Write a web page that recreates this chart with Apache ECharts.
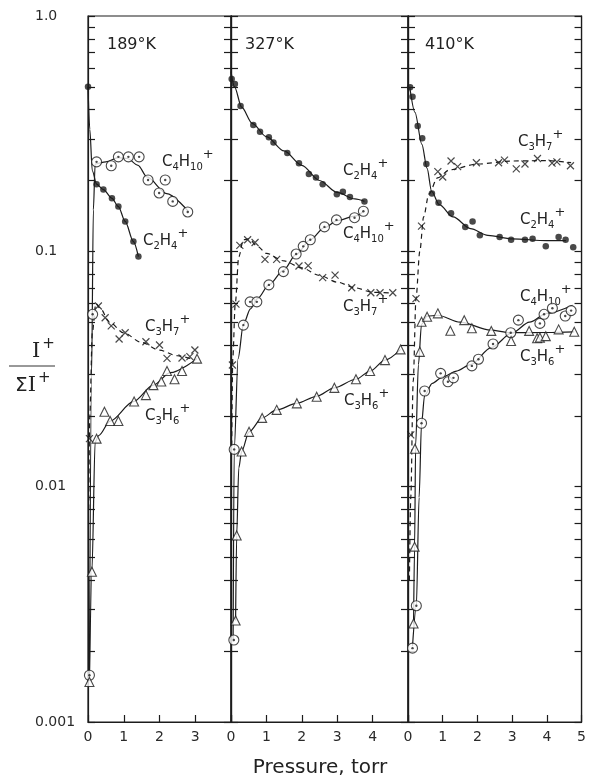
<!DOCTYPE html>
<html>
<head>
<meta charset="utf-8">
<script src="https://cdn.jsdelivr.net/npm/echarts@6/dist/echarts.min.js"></script>
<style>
html,body{margin:0;padding:0;background:#fff}
#chart{width:589px;height:778px}
</style>
</head>
<body>
<div id="chart"></div>
<script>
// pressure (torr) vs I+/sum I+ ; three temperatures
var panelTitles = ['189°K', '327°K', '410°K'];
var panelMax = [4, 5, 5];
var yLabelValues = [0.001, 0.01, 0.1, 1];
var yLabelTexts = ['0.001', '0.01', '0.1', '1.0'];

// 189 K
var p1C2H4 = [[0.0,0.50],[0.24,0.193],[0.43,0.183],[0.67,0.168],[0.85,0.155],[1.04,0.134],[1.27,0.110],[1.41,0.095]];
var p1C2H4Fit = [[0.0,0.50],[0.05,0.33],[0.12,0.22],[0.24,0.193],[0.43,0.183],[0.67,0.168],[0.85,0.155],[1.04,0.134],[1.27,0.110],[1.41,0.095]];
var p1C4H10 = [[0.04,0.00158],[0.13,0.054],[0.24,0.240],[0.65,0.231],[0.85,0.252],[1.13,0.252],[1.43,0.252],[1.68,0.201],[1.99,0.177],[2.16,0.201],[2.37,0.163],[2.79,0.147]];
var p1C4H10Fit = [[0.04,0.0016],[0.1,0.03],[0.15,0.15],[0.2,0.235],[0.5,0.24],[0.85,0.25],[1.1,0.248],[1.4,0.232],[1.65,0.207],[2.2,0.176],[2.82,0.147]];
var p1C3H7 = [[0.04,0.016],[0.29,0.0586],[0.48,0.0522],[0.65,0.0482],[0.87,0.0424],[1.04,0.0451],[1.62,0.0413],[2.0,0.040],[2.21,0.0351],[2.63,0.0352],[2.85,0.0357],[2.99,0.0381]];
var p1C3H7Fit = [[0.02,0.008],[0.05,0.02],[0.12,0.045],[0.22,0.06],[0.35,0.057],[0.6,0.05],[1.0,0.045],[1.5,0.041],[2.0,0.038],[2.5,0.036],[3.0,0.0345]];
var p1C3H6 = [[0.04,0.00148],[0.11,0.00435],[0.24,0.016],[0.46,0.0208],[0.62,0.019],[0.85,0.019],[1.29,0.023],[1.62,0.0245],[1.83,0.027],[2.05,0.028],[2.21,0.031],[2.42,0.0286],[2.63,0.031],[3.05,0.035]];
var p1C3H6Fit = [[0.04,0.0015],[0.11,0.0044],[0.2,0.0155],[0.3,0.0165],[0.62,0.019],[1.27,0.023],[1.83,0.027],[2.3,0.0305],[3.05,0.035]];

// 327 K
var p2C2H4 = [[0.02,0.54],[0.11,0.514],[0.27,0.415],[0.63,0.344],[0.82,0.322],[1.07,0.305],[1.20,0.29],[1.59,0.262],[1.92,0.237],[2.20,0.213],[2.40,0.206],[2.59,0.193],[2.99,0.175],[3.16,0.179],[3.36,0.17],[3.77,0.163]];
var p2C2H4Fit = [[0.0,0.58],[0.1,0.5],[0.3,0.41],[0.6,0.35],[1.0,0.307],[1.5,0.267],[2.0,0.232],[2.5,0.2],[3.0,0.178],[3.5,0.167],[3.77,0.163]];
var p2C4H10 = [[0.08,0.00223],[0.09,0.0144],[0.35,0.0486],[0.54,0.061],[0.73,0.061],[1.07,0.072],[1.48,0.082],[1.84,0.0974],[2.04,0.105],[2.24,0.112],[2.64,0.127],[2.98,0.136],[3.49,0.139],[3.74,0.148]];
var p2C4H10Fit = [[0.06,0.0022],[0.09,0.0144],[0.2,0.035],[0.35,0.049],[0.55,0.057],[0.75,0.063],[1.07,0.072],[1.48,0.083],[1.84,0.097],[2.24,0.112],[2.64,0.126],[3.0,0.135],[3.5,0.141],[3.75,0.148]];
var p2C3H7 = [[0.04,0.0329],[0.14,0.0597],[0.25,0.106],[0.47,0.112],[0.68,0.109],[0.96,0.0925],[1.29,0.0925],[1.92,0.0866],[2.18,0.087],[2.59,0.0773],[2.94,0.0792],[3.41,0.070],[3.95,0.0667],[4.21,0.0667],[4.57,0.0667]];
var p2C3H7Fit = [[0.02,0.015],[0.05,0.035],[0.12,0.06],[0.22,0.095],[0.35,0.112],[0.5,0.113],[0.75,0.105],[1.0,0.098],[1.5,0.091],[2.0,0.085],[2.5,0.079],[3.0,0.074],[3.5,0.07],[4.0,0.067],[4.57,0.0665]];
var p2C3H6 = [[0.13,0.0027],[0.16,0.0062],[0.30,0.0141],[0.51,0.0171],[0.88,0.0196],[1.29,0.0212],[1.86,0.0226],[2.42,0.0241],[2.92,0.0263],[3.53,0.0286],[3.93,0.031],[4.35,0.0345],[4.79,0.0383]];
var p2C3H6Fit = [[0.13,0.0027],[0.16,0.0062],[0.22,0.012],[0.3,0.0141],[0.51,0.0171],[0.88,0.0196],[1.29,0.0212],[1.86,0.0226],[2.42,0.0242],[2.92,0.0263],[3.53,0.0286],[3.93,0.031],[4.35,0.0345],[4.79,0.0383]];

// 410 K
var p3C2H4 = [[0.06,0.498],[0.13,0.454],[0.28,0.341],[0.41,0.302],[0.53,0.235],[0.69,0.176],[0.88,0.161],[1.24,0.145],[1.65,0.127],[1.86,0.134],[2.07,0.117],[2.64,0.115],[2.97,0.112],[3.37,0.112],[3.59,0.113],[3.97,0.105],[4.34,0.115],[4.54,0.112],[4.76,0.104]];
var p3C2H4Fit = [[0.05,0.50],[0.2,0.39],[0.4,0.285],[0.55,0.225],[0.68,0.18],[0.9,0.158],[1.3,0.14],[1.8,0.125],[2.3,0.117],[3.0,0.113],[4.0,0.111],[4.55,0.111]];
var p3C3H7 = [[0.08,0.0166],[0.23,0.063],[0.39,0.128],[0.86,0.218],[1.0,0.207],[1.24,0.242],[1.43,0.229],[1.97,0.238],[2.61,0.238],[2.78,0.244],[3.12,0.224],[3.37,0.235],[3.73,0.248],[4.15,0.237],[4.29,0.24],[4.68,0.231]];
var p3C3H7Fit = [[0.04,0.004],[0.08,0.009],[0.15,0.028],[0.23,0.063],[0.34,0.1],[0.45,0.14],[0.6,0.175],[0.85,0.205],[1.2,0.222],[2.0,0.235],[3.0,0.242],[4.0,0.243],[4.7,0.238]];
var p3C4H10 = [[0.13,0.00206],[0.24,0.00312],[0.39,0.0186],[0.48,0.0255],[0.94,0.0303],[1.15,0.0279],[1.31,0.029],[1.84,0.0326],[2.03,0.0348],[2.45,0.0404],[2.96,0.0451],[3.18,0.051],[3.80,0.0494],[3.92,0.054],[4.16,0.0573],[4.53,0.0531],[4.70,0.056]];
var p3C4H10Fit = [[0.13,0.0021],[0.24,0.0031],[0.32,0.009],[0.39,0.0186],[0.48,0.0245],[0.7,0.0275],[1.0,0.0293],[1.4,0.031],[1.8,0.033],[2.4,0.039],[3.0,0.045],[3.5,0.05],[4.0,0.0545],[4.74,0.059]];
var p3C3H6 = [[0.16,0.00262],[0.19,0.00556],[0.2,0.0145],[0.34,0.0374],[0.39,0.0502],[0.55,0.0527],[0.86,0.0545],[1.22,0.046],[1.62,0.051],[1.84,0.0471],[2.40,0.0459],[2.97,0.0416],[3.49,0.0459],[3.72,0.0427],[3.80,0.043],[3.97,0.0436],[4.34,0.0466],[4.79,0.0455]];
var p3C3H6Fit = [[0.16,0.0026],[0.19,0.0056],[0.22,0.015],[0.3,0.033],[0.39,0.049],[0.55,0.053],[0.86,0.0535],[1.5,0.05],[2.38,0.0463],[2.94,0.0451],[4.0,0.0452],[4.79,0.0455]];

var FONT = '"DejaVu Sans", sans-serif';
var INK = '#1c1c1c';

// grid boxes in px
var grids = [
	{left: 88, top: 16, width: 143, height: 706},
	{left: 231, top: 16, width: 177, height: 706},
	{left: 408, top: 16, width: 176, height: 706}
];

// minor log ticks 1..9 per decade
var yTickValues = [];
for (var d = 0.001; d < 0.5; d *= 10) {
	for (var k = 1; k < 10; k++) yTickValues.push(+(d * k).toPrecision(3));
}
yTickValues.push(1);

var xAxes = [], yAxes = [];
grids.forEach(function (g, i) {
	xAxes.push({
		gridIndex: i, type: 'value', min: 0, max: panelMax[i], interval: 1,
		axisLine: {lineStyle: {color: INK, width: 1.2}},
		axisTick: {inside: true, length: 7, lineStyle: {color: INK, width: 1.2}},
		splitLine: {show: false},
		axisLabel: {
			fontFamily: FONT, fontSize: 14, color: '#2a2a2a', margin: 8,
			formatter: function (v) { return (i < 2 && v == panelMax[i]) ? '' : String(v); }
		}
	});
	['left', 'right'].forEach(function (pos) {
		yAxes.push({
			gridIndex: i, type: 'log', logBase: 10, min: 0.001, max: 1, position: pos,
			axisLine: {show: true, lineStyle: {color: INK, width: 1.2}},
			axisTick: {inside: true, length: 7, customValues: yTickValues, lineStyle: {color: INK, width: 1.2}},
			splitLine: {show: false},
			minorTick: {show: false},
			axisLabel: {
				show: (i == 0 && pos == 'left'),
				customValues: yLabelValues,
				fontFamily: FONT, fontSize: 14, color: '#2a2a2a',
				align: 'left', margin: 53,
				formatter: function (v) {
					for (var j = 0; j < yLabelValues.length; j++) {
						if (Math.abs(Math.log10(v) - Math.log10(yLabelValues[j])) < 0.01) return yLabelTexts[j];
					}
					return '';
				}
			}
		});
	});
});

function fit(data, g, dashed) {
	return {
		type: 'line', xAxisIndex: g, yAxisIndex: 2 * g, data: data,
		showSymbol: false, smooth: 0.3, smoothMonotone: 'x', silent: true, z: 2,
		lineStyle: {color: INK, width: 1.2, type: dashed ? [5, 4] : 'solid'}
	};
}
function pts(data, g, kind) {
	var s = {type: 'scatter', xAxisIndex: g, yAxisIndex: 2 * g, data: data, silent: true, z: 3};
	if (kind == 'dot') {
		s.symbol = 'circle'; s.symbolSize = 6.5; s.itemStyle = {color: INK};
	} else if (kind == 'ring') {
		s.symbol = 'circle'; s.symbolSize = 10;
		s.itemStyle = {color: '#fff', borderColor: INK, borderWidth: 1.1};
	} else if (kind == 'center') {
		s.symbol = 'circle'; s.symbolSize = 2.4; s.z = 4; s.itemStyle = {color: INK};
	} else if (kind == 'cross') {
		s.symbol = 'path://M0,0L10,10M10,0L0,10'; s.symbolSize = 7;
		s.itemStyle = {color: 'rgba(0,0,0,0)', borderColor: INK, borderWidth: 1.2};
	} else if (kind == 'tri') {
		s.symbol = 'triangle'; s.symbolSize = 9;
		s.itemStyle = {color: '#fff', borderColor: INK, borderWidth: 1.1};
	}
	return s;
}

var panels = [
	[p1C2H4, p1C2H4Fit, p1C4H10, p1C4H10Fit, p1C3H7, p1C3H7Fit, p1C3H6, p1C3H6Fit],
	[p2C2H4, p2C2H4Fit, p2C4H10, p2C4H10Fit, p2C3H7, p2C3H7Fit, p2C3H6, p2C3H6Fit],
	[p3C2H4, p3C2H4Fit, p3C4H10, p3C4H10Fit, p3C3H7, p3C3H7Fit, p3C3H6, p3C3H6Fit]
];
var series = [];
panels.forEach(function (p, g) {
	series.push(fit(p[1], g, false), fit(p[3], g, false), fit(p[5], g, true), fit(p[7], g, false));
	series.push(pts(p[0], g, 'dot'));
	series.push(pts(p[2], g, 'ring'), pts(p[2], g, 'center'));
	series.push(pts(p[4], g, 'cross'));
	series.push(pts(p[6], g, 'tri'));
});

// species label text
var C2H4 = '{n|C}{s|2}{n|H}{s|4}{p|+}';
var C4H10 = '{n|C}{s|4}{n|H}{s|10}{p|+}';
var C3H7 = '{n|C}{s|3}{n|H}{s|7}{p|+}';
var C3H6 = '{n|C}{s|3}{n|H}{s|6}{p|+}';
var speciesLabels = [
	[C4H10, 162, 162], [C2H4, 143, 241], [C3H7, 145, 327], [C3H6, 145, 416],
	[C2H4, 343, 171], [C4H10, 343, 234], [C3H7, 343, 307], [C3H6, 344, 401],
	[C3H7, 518, 142], [C2H4, 520, 220], [C4H10, 520, 297], [C3H6, 520, 357]
];
var rich = {
	n: {fontFamily: FONT, fontSize: 15, fill: '#222', lineHeight: 30, verticalAlign: 'middle'},
	s: {fontFamily: FONT, fontSize: 10, fill: '#222', lineHeight: 10, verticalAlign: 'bottom', padding: [0, 0, 5, 0]},
	p: {fontFamily: FONT, fontSize: 13, fill: '#222', lineHeight: 13, verticalAlign: 'top', padding: [1, 0, 0, 0]}
};

var titlePos = [[107, 45], [245, 45], [425, 45]];
var graphics = [];
speciesLabels.forEach(function (l) {
	graphics.push({type: 'text', x: l[1], y: l[2], silent: true,
		style: {text: l[0], rich: rich, align: 'left', verticalAlign: 'middle'}});
});
panelTitles.forEach(function (t, i) {
	graphics.push({type: 'text', x: titlePos[i][0], y: titlePos[i][1], silent: true,
		style: {text: t, font: '16px ' + FONT, fill: '#222', align: 'left', verticalAlign: 'middle'}});
});
graphics.push({type: 'text', x: 320, y: 768, silent: true,
	style: {text: 'Pressure, torr', font: '20px ' + FONT, fill: '#222', align: 'center', verticalAlign: 'middle'}});
// y title as fraction
var fracRich = {
	i: {fontFamily: '"DejaVu Serif", serif', fontSize: 21, fill: '#222', lineHeight: 30, verticalAlign: 'middle'},
	g: {fontFamily: FONT, fontSize: 20, fill: '#222', lineHeight: 30, verticalAlign: 'middle'},
	p: {fontFamily: FONT, fontSize: 15, fill: '#222', lineHeight: 15, verticalAlign: 'top', padding: [0, 0, 0, 2]}
};
graphics.push({type: 'text', x: 32, y: 352, silent: true,
	style: {text: '{i|I}{p|+}', rich: fracRich, align: 'left', verticalAlign: 'middle'}});
graphics.push({type: 'line', silent: true, shape: {x1: 9, y1: 366, x2: 55, y2: 366},
	style: {stroke: '#333', lineWidth: 1}});
graphics.push({type: 'text', x: 15, y: 386, silent: true,
	style: {text: '{g|Σ}{i|I}{p|+}', rich: fracRich, align: 'left', verticalAlign: 'middle'}});

var chart = echarts.init(document.getElementById('chart'));
chart.setOption({
	animation: false,
	backgroundColor: '#fff',
	grid: grids.map(function (g) {
		return {left: g.left, top: g.top, width: g.width, height: g.height, show: true,
			borderColor: INK, borderWidth: 1.2, backgroundColor: 'transparent'};
	}),
	xAxis: xAxes,
	yAxis: yAxes,
	series: series,
	graphic: graphics
});
</script>
</body>
</html>
